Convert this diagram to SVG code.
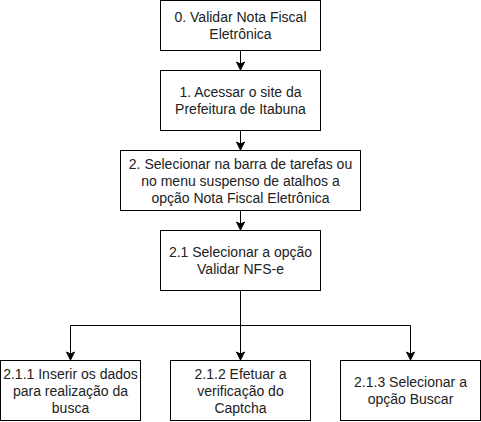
<svg xmlns="http://www.w3.org/2000/svg" width="481" height="422" viewBox="0 0 481 422">
<style>
.box{fill:#fff;stroke:#000;stroke-width:1}
.t{font-family:"Liberation Sans",Arial,sans-serif;font-size:14px;fill:#222;text-anchor:middle}
.c{fill:none;stroke:#000;stroke-width:1}
</style>
<defs>
<marker id="arr" markerUnits="userSpaceOnUse" markerWidth="10" markerHeight="10" viewBox="0 0 10 10" refX="9" refY="5" orient="auto">
<path d="M1,1 L9,5 L1,9 L3,5 Z" fill="#000" stroke="#000" stroke-width="1"/>
</marker>
</defs>
<rect width="481" height="422" fill="#fff"/>
<g id="connectors">
<path class="c" d="M240.5,50.5 L240.5,70" marker-end="url(#arr)"/>
<path class="c" d="M240.5,130.5 L240.5,150" marker-end="url(#arr)"/>
<path class="c" d="M240.5,210.5 L240.5,230" marker-end="url(#arr)"/>
<path class="c" d="M240.5,290.5 L240.5,360" marker-end="url(#arr)"/>
<path class="c" d="M240.5,325.5 L70.5,325.5 L70.5,360" marker-end="url(#arr)"/>
<path class="c" d="M240.5,325.5 L410.5,325.5 L410.5,360" marker-end="url(#arr)"/>
</g>
<g id="n0">
<rect class="box" x="160.5" y="0.5" width="160" height="50"/>
<text class="t" x="240.5" y="22.3">0. Validar Nota Fiscal</text>
<text class="t" x="240.5" y="39.1">Eletrônica</text>
</g>
<g id="n1">
<rect class="box" x="160.5" y="70.5" width="160" height="60"/>
<text class="t" x="240.5" y="97.3">1. Acessar o site da</text>
<text class="t" x="240.5" y="114.1">Prefeitura de Itabuna</text>
</g>
<g id="n2">
<rect class="box" x="120.5" y="150.5" width="240" height="60"/>
<text class="t" x="240.5" y="168.9">2. Selecionar na barra de tarefas ou</text>
<text class="t" x="240.5" y="185.7">no menu suspenso de atalhos a</text>
<text class="t" x="240.5" y="202.5">opção Nota Fiscal Eletrônica</text>
</g>
<g id="n21">
<rect class="box" x="160.5" y="230.5" width="160" height="60"/>
<text class="t" x="240.5" y="257.3">2.1 Selecionar a opção</text>
<text class="t" x="240.5" y="274.1">Validar NFS-e</text>
</g>
<g id="n211">
<rect class="box" x="0.5" y="360.5" width="140" height="60"/>
<text class="t" x="70.5" y="378.9">2.1.1 Inserir os dados</text>
<text class="t" x="70.5" y="395.7">para realização da</text>
<text class="t" x="70.5" y="412.5">busca</text>
</g>
<g id="n212">
<rect class="box" x="170.5" y="360.5" width="140" height="60"/>
<text class="t" x="240.5" y="378.9">2.1.2 Efetuar a</text>
<text class="t" x="240.5" y="395.7">verificação do</text>
<text class="t" x="240.5" y="412.5">Captcha</text>
</g>
<g id="n213">
<rect class="box" x="340.5" y="360.5" width="140" height="60"/>
<text class="t" x="410.5" y="387.3">2.1.3 Selecionar a</text>
<text class="t" x="410.5" y="404.1">opção Buscar</text>
</g>
</svg>
